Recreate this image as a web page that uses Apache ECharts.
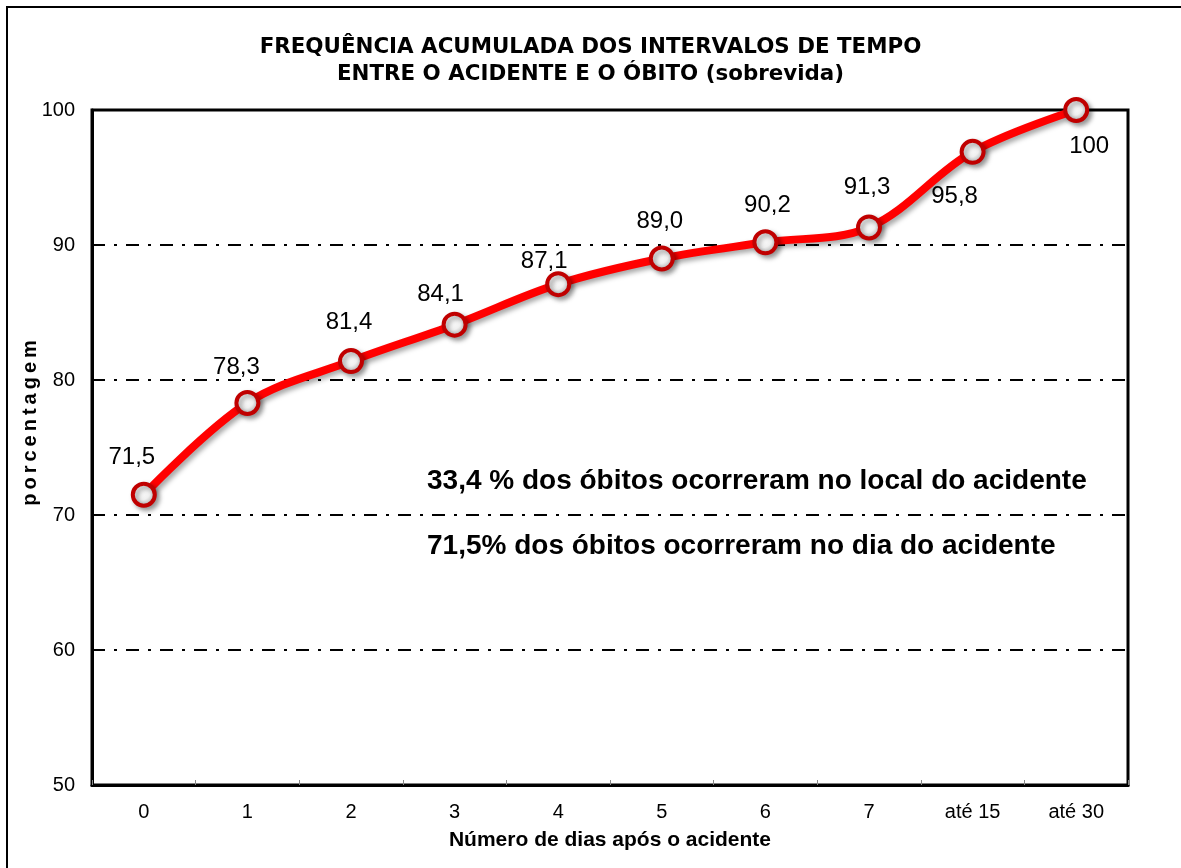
<!DOCTYPE html>
<html>
<head>
<meta charset="utf-8">
<script src="https://cdn.jsdelivr.net/npm/echarts@6/dist/echarts.min.js"></script>
<style>
html,body{margin:0;padding:0;background:#fff;}
#chart{width:1181px;height:868px;}
</style>
</head>
<body>
<div id="chart"></div>
<script>
// ---- data ----
var categories = ['0', '1', '2', '3', '4', '5', '6', '7', 'até 15', 'até 30'];
var values = [71.5, 78.3, 81.4, 84.1, 87.1, 89.0, 90.2, 91.3, 96.9, 100];
var valueLabels = ['71,5', '78,3', '81,4', '84,1', '87,1', '89,0', '90,2', '91,3', '95,8', '100'];
var yTicks = [50, 60, 70, 80, 90, 100];
var titleLines = ['FREQUÊNCIA ACUMULADA DOS INTERVALOS DE TEMPO', 'ENTRE O ACIDENTE E O ÓBITO (sobrevida)'];
var notes = ['33,4 % dos óbitos ocorreram no local do acidente', '71,5% dos óbitos ocorreram no dia do acidente'];
var xName = 'Número de dias após o acidente';
var yName = 'porcentagem';

// ---- styling ----
var labelOffsets = [[-12,-37],[-11,-36],[-2,-39],[-14,-30],[-14,-23],[-2,-37],[2,-37],[-2,-40],[-18,45],[13,36]];
var dashPattern = [13, 9, 3, 9];

var chart = echarts.init(document.getElementById('chart'));
var seriesData = values.map(function (v, i) {
  return {
    value: v,
    label: { show: true, position: 'inside', offset: labelOffsets[i], formatter: valueLabels[i] }
  };
});

var option = {
  animation: false,
  backgroundColor: '#fff',
  title: {
    text: titleLines.join('\n'),
    left: 'center',
    top: 29,
    textStyle: { fontFamily: 'DejaVu Sans', fontWeight: 'bold', fontSize: 21.4, lineHeight: 27, color: '#000' }
  },
  grid: { left: 92, right: 53, top: 110, bottom: 83, show: true, borderColor: '#000', borderWidth: 3, backgroundColor: 'transparent' },
  xAxis: {
    type: 'category',
    data: categories,
    boundaryGap: true,
    name: xName,
    nameLocation: 'middle',
    nameGap: 45,
    nameTextStyle: { fontFamily: 'Liberation Sans', fontWeight: 'bold', fontSize: 21, color: '#000' },
    axisLine: { lineStyle: { color: '#000', width: 3 } },
    axisTick: { show: true, inside: true, length: 5, lineStyle: { color: '#888', width: 1 } },
    axisLabel: { margin: 17, fontFamily: 'Liberation Sans', fontSize: 20, color: '#000' },
    splitLine: { show: false }
  },
  yAxis: {
    type: 'value',
    min: yTicks[0],
    max: yTicks[yTicks.length - 1],
    interval: 10,
    axisLine: { show: true, lineStyle: { color: '#000', width: 3 } },
    axisTick: { show: false },
    axisLabel: { margin: 17, fontFamily: 'Liberation Sans', fontSize: 20, color: '#000' },
    splitLine: { show: true, lineStyle: { color: '#000', width: 2, type: dashPattern } }
  },
  series: [{
    type: 'line',
    data: seriesData,
    smooth: 0.35,
    symbol: 'circle',
    symbolSize: 22,
    lineStyle: { color: '#ff0000', width: 8, shadowColor: 'rgba(0,0,0,0.35)', shadowBlur: 5, shadowOffsetX: 3, shadowOffsetY: 3 },
    itemStyle: {
      color: { type: 'radial', x: 0.4, y: 0.35, r: 0.7, colorStops: [{ offset: 0, color: '#ffffff' }, { offset: 0.5, color: '#f0f0f0' }, { offset: 1, color: '#9a9a9a' }] },
      borderColor: '#c00000',
      borderWidth: 4,
      shadowColor: 'rgba(0,0,0,0.35)', shadowBlur: 5, shadowOffsetX: 3, shadowOffsetY: 3
    },
    label: { fontFamily: 'Liberation Sans', fontSize: 24, color: '#000' },
    z: 5
  }],
  graphic: [
    { type: 'rect', shape: { x: 7, y: 7, width: 1400, height: 1200 }, style: { fill: 'none', stroke: '#000', lineWidth: 2 }, silent: true },
    { type: 'text', x: 30, y: 423, rotation: Math.PI / 2, style: { text: yName.split('').join('\u2009'), font: 'bold 20px "Liberation Sans"', fill: '#000', align: 'center', verticalAlign: 'middle' } },
    { type: 'text', x: 427, y: 481, style: { text: notes[0], font: 'bold 28px "Liberation Sans"', fill: '#000', verticalAlign: 'middle' } },
    { type: 'text', x: 427, y: 546, style: { text: notes[1], font: 'bold 28px "Liberation Sans"', fill: '#000', verticalAlign: 'middle' } }
  ]
};
chart.setOption(option);
</script>
</body>
</html>
